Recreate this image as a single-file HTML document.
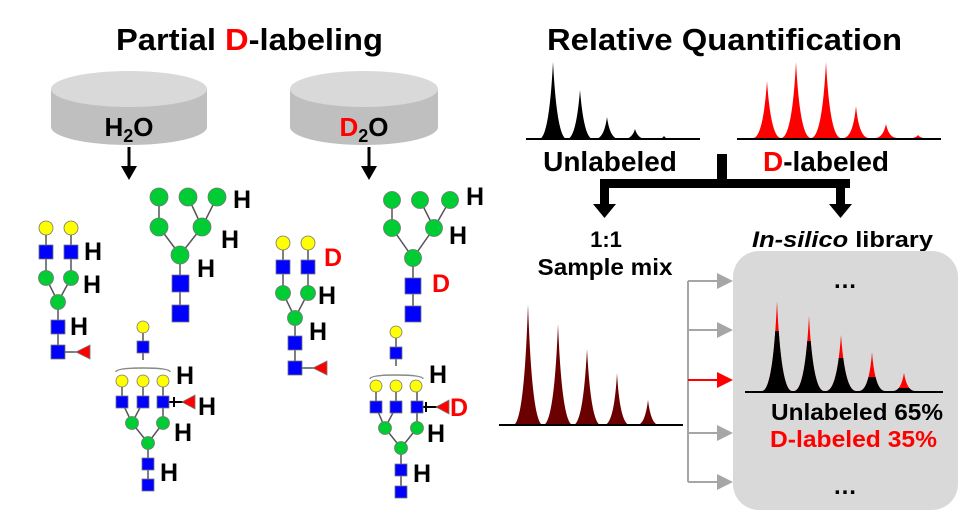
<!DOCTYPE html>
<html><head><meta charset="utf-8"><style>
html,body{margin:0;padding:0;background:#fff;}
svg{display:block;font-family:"Liberation Sans",Arial,sans-serif;font-weight:bold;}
</style></head><body>
<svg width="969" height="520" viewBox="0 0 969 520" xmlns="http://www.w3.org/2000/svg">
<!-- Titles -->
<text x="116" y="50" font-size="31" textLength="267" lengthAdjust="spacingAndGlyphs">Partial <tspan fill="#f00">D</tspan>-labeling</text>
<text x="547" y="50" font-size="31" textLength="355" lengthAdjust="spacingAndGlyphs">Relative Quantification</text>

<!-- Cylinders -->
<g>
<path d="M51 89 V127 A78 18 0 0 0 207 127 V89 Z" fill="#bfbfbf"/>
<ellipse cx="129" cy="89" rx="78" ry="18" fill="#d9d9d9"/>
<text x="129" y="136" font-size="26" text-anchor="middle">H<tspan font-size="18" dy="6">2</tspan><tspan dy="-6">O</tspan></text>
<path d="M290 89 V127 A74 18 0 0 0 438 127 V89 Z" fill="#bfbfbf"/>
<ellipse cx="364" cy="89" rx="74" ry="18" fill="#d9d9d9"/>
<text x="364" y="136" font-size="26" text-anchor="middle"><tspan fill="#f00">D</tspan><tspan font-size="18" dy="6">2</tspan><tspan dy="-6">O</tspan></text>
<line x1="129" y1="147" x2="129" y2="168" stroke="#000" stroke-width="3"/>
<polygon points="121,166 137,166 129,180" fill="#000"/>
<line x1="369" y1="147" x2="369" y2="168" stroke="#000" stroke-width="3"/>
<polygon points="361,166 377,166 369,180" fill="#000"/>
</g>

<g stroke="#555" stroke-width="1.5" fill="none">
<path d="M46 228 V278 L58 302 L71 278 V228 M58 302 V352 H83"/>
<path d="M159 197 V227 L180 255 L202 227 L217 197 M188 197 L202 227 M180 255 V313"/>
<path d="M143 327 V360 M122 381 V402 L132 423 L148 443 L163 423 L163 402 V381 M143 381 V402 L132 423 M148 443 V485"/>
<path d="M116 372 Q116 368 143 368 Q170 368 170 372" stroke="#888"/>
<path d="M163 402 H186" stroke="#000" stroke-width="2"/><path d="M174 397 V407" stroke="#000" stroke-width="2"/>
<path d="M283 243 V293 L295 318 L308 293 V243 M295 318 V368 H325"/>
<path d="M392 200 V228 L413 258 L434 228 L450 200 M420 200 L434 228 M413 258 V313"/>
<path d="M396 332 V366 M376 386 V407 L385 428 L401 448 L417 428 V386 M396 386 V407 L385 428 M401 448 V492"/>
<path d="M370 379 Q370 375 396 375 Q423 375 423 379" stroke="#888"/>
<path d="M417 407 H441" stroke="#000" stroke-width="2"/><path d="M426 402 V412" stroke="#000" stroke-width="2"/>
</g>

<g stroke="#777" stroke-width="0.8">
<circle cx="46" cy="228" r="7" fill="#ff0"/><circle cx="71" cy="228" r="7" fill="#ff0"/>
<rect x="39" y="245" width="14" height="14" fill="#00f"/><rect x="64" y="245" width="14" height="14" fill="#00f"/>
<circle cx="46" cy="278" r="7.5" fill="#0c3"/><circle cx="71" cy="278" r="7.5" fill="#0c3"/>
<circle cx="58" cy="302" r="7.5" fill="#0c3"/>
<rect x="51" y="320" width="14" height="14" fill="#00f"/><rect x="51" y="345" width="14" height="14" fill="#00f"/>
<polygon points="76,352 90,345 90,359" fill="#f00"/>
<circle cx="159" cy="197" r="9" fill="#0c3"/><circle cx="188" cy="197" r="9" fill="#0c3"/><circle cx="217" cy="197" r="9" fill="#0c3"/>
<circle cx="159" cy="227" r="9" fill="#0c3"/><circle cx="202" cy="227" r="9" fill="#0c3"/>
<circle cx="180" cy="255" r="9" fill="#0c3"/>
<rect x="172" y="275" width="17" height="17" fill="#00f"/><rect x="172" y="305" width="17" height="17" fill="#00f"/>
<circle cx="143" cy="327" r="6" fill="#ff0"/><rect x="137" y="341" width="12" height="12" fill="#00f"/>
<circle cx="122" cy="381" r="6" fill="#ff0"/><circle cx="143" cy="381" r="6" fill="#ff0"/><circle cx="163" cy="381" r="6" fill="#ff0"/>
<rect x="116" y="396" width="12" height="12" fill="#00f"/><rect x="137" y="396" width="12" height="12" fill="#00f"/><rect x="157" y="396" width="12" height="12" fill="#00f"/>
<polygon points="182,402 195,395 195,409" fill="#f00"/>
<circle cx="132" cy="423" r="6.5" fill="#0c3"/><circle cx="163" cy="423" r="6.5" fill="#0c3"/>
<circle cx="148" cy="443" r="6.5" fill="#0c3"/>
<rect x="142" y="458" width="12" height="12" fill="#00f"/><rect x="142" y="479" width="12" height="12" fill="#00f"/>
<circle cx="283" cy="243" r="7" fill="#ff0"/><circle cx="308" cy="243" r="7" fill="#ff0"/>
<rect x="276" y="260" width="14" height="14" fill="#00f"/><rect x="301" y="260" width="14" height="14" fill="#00f"/>
<circle cx="283" cy="293" r="7.5" fill="#0c3"/><circle cx="308" cy="293" r="7.5" fill="#0c3"/>
<circle cx="295" cy="318" r="7.5" fill="#0c3"/>
<rect x="288" y="336" width="14" height="14" fill="#00f"/><rect x="288" y="361" width="14" height="14" fill="#00f"/>
<polygon points="313,368 327,361 327,375" fill="#f00"/>
<circle cx="392" cy="200" r="8.5" fill="#0c3"/><circle cx="420" cy="200" r="8.5" fill="#0c3"/><circle cx="450" cy="200" r="8.5" fill="#0c3"/>
<circle cx="392" cy="228" r="8.5" fill="#0c3"/><circle cx="434" cy="228" r="8.5" fill="#0c3"/>
<circle cx="413" cy="258" r="8.5" fill="#0c3"/>
<rect x="405" y="278" width="16" height="16" fill="#00f"/><rect x="405" y="306" width="16" height="16" fill="#00f"/>
<circle cx="396" cy="332" r="6" fill="#ff0"/><rect x="390" y="347" width="12" height="12" fill="#00f"/>
<circle cx="376" cy="386" r="6" fill="#ff0"/><circle cx="396" cy="386" r="6" fill="#ff0"/><circle cx="416" cy="386" r="6" fill="#ff0"/>
<rect x="370" y="401" width="12" height="12" fill="#00f"/><rect x="390" y="401" width="12" height="12" fill="#00f"/><rect x="411" y="401" width="12" height="12" fill="#00f"/>
<polygon points="436,407 449,400 449,414" fill="#f00"/>
<circle cx="385" cy="428" r="6.5" fill="#0c3"/><circle cx="417" cy="428" r="6.5" fill="#0c3"/>
<circle cx="401" cy="448" r="6.5" fill="#0c3"/>
<rect x="395" y="464" width="12" height="12" fill="#00f"/><rect x="395" y="486" width="12" height="12" fill="#00f"/>
</g>

<g font-size="25">
<text x="84" y="260">H</text><text x="83" y="293">H</text><text x="70" y="335">H</text>
<text x="233" y="208">H</text><text x="221" y="248">H</text><text x="197" y="277">H</text>
<text x="176" y="384">H</text><text x="198" y="415">H</text><text x="174" y="441">H</text><text x="160" y="481">H</text>
<text x="324" y="266" fill="#f00">D</text><text x="318" y="304">H</text><text x="309" y="340">H</text>
<text x="466" y="205">H</text><text x="449" y="244">H</text><text x="432" y="292" fill="#f00">D</text>
<text x="429" y="383">H</text><text x="450" y="416" fill="#f00">D</text><text x="427" y="442">H</text><text x="413" y="482">H</text>
</g>

<!-- Top spectra -->
<line x1="526" y1="139" x2="700" y2="139" stroke="#000" stroke-width="2"/>
<g fill="#000">
<path d="M539 139 Q549 139 553 62 Q557 139 567 139Z"/>
<path d="M567 139 Q576 139 580 90 Q584 139 593 139Z"/>
<path d="M595 139 Q604 139 607 117 Q610 139 619 139Z"/>
<path d="M624 139 Q632 139 635 129 Q638 139 646 139Z"/>
<path d="M658 139 Q662 139 664 136 Q666 139 670 139Z"/>
</g>
<line x1="737" y1="139" x2="941" y2="139" stroke="#000" stroke-width="2"/>
<g fill="#f00">
<path d="M753 138 Q763 138 767 81 Q771 138 781 138Z"/>
<path d="M781 138 Q792 138 796 62 Q800 138 811 138Z"/>
<path d="M811 138 Q822 138 826 62 Q830 138 841 138Z"/>
<path d="M843 138 Q853 138 856 106 Q859 138 869 138Z"/>
<path d="M875 138 Q883 138 886 124 Q889 138 897 138Z"/>
<path d="M911 138 Q916 138 918 135 Q920 138 925 138Z"/>
</g>
<text x="610" y="171" font-size="28" text-anchor="middle">Unlabeled</text>
<text x="826" y="171" font-size="28" text-anchor="middle"><tspan fill="#f00">D</tspan>-labeled</text>

<rect x="717" y="154" width="10" height="30" fill="#000"/>
<rect x="600" y="179" width="250" height="9" fill="#000"/>
<rect x="600" y="179" width="9" height="27" fill="#000"/>
<rect x="836" y="179" width="9" height="27" fill="#000"/>
<polygon points="593,204 616,204 604.5,218" fill="#000"/>
<polygon points="829,204 852,204 840.5,218" fill="#000"/>

<text x="606" y="247" font-size="22" text-anchor="middle">1:1</text>
<text x="605" y="275" font-size="23" text-anchor="middle" textLength="135" lengthAdjust="spacingAndGlyphs">Sample mix</text>
<text x="752" y="247" font-size="22" textLength="181" lengthAdjust="spacingAndGlyphs"><tspan font-style="italic">In-silico</tspan> library</text>

<!-- Sample mix spectrum -->
<g fill="#6b0000">
<path d="M513 425 Q524 425 528 304 Q532 425 543 425Z"/>
<path d="M543 425 Q554 425 558 324 Q562 425 573 425Z"/>
<path d="M573 425 Q583 425 587 349 Q591 425 601 425Z"/>
<path d="M604 425 Q614 425 617 373 Q620 425 630 425Z"/>
<path d="M637 425 Q645 425 648 400 Q651 425 659 425Z"/>
</g>
<line x1="499" y1="425" x2="683" y2="425" stroke="#000" stroke-width="2"/>

<g stroke="#a6a6a6" stroke-width="2">
<line x1="688" y1="281" x2="688" y2="482"/>
<line x1="688" y1="281" x2="720" y2="281"/>
<line x1="688" y1="330" x2="720" y2="330"/>
<line x1="688" y1="433" x2="720" y2="433"/>
<line x1="688" y1="482" x2="720" y2="482"/>
</g>
<g fill="#a6a6a6">
<polygon points="717,273 733,281 717,289"/>
<polygon points="717,322 733,330 717,338"/>
<polygon points="717,425 733,433 717,441"/>
<polygon points="717,474 733,482 717,490"/>
</g>
<line x1="688" y1="380" x2="720" y2="380" stroke="#f00" stroke-width="2"/>
<polygon points="717,372 733,380 717,388" fill="#f00"/>

<rect x="733" y="251" width="225" height="259" rx="26" fill="#d9d9d9"/>
<text x="845" y="288" font-size="24" text-anchor="middle">…</text>
<text x="845" y="494" font-size="24" text-anchor="middle">…</text>
<clipPath id="c1"><rect x="760" y="331" width="40" height="70"/></clipPath>
<clipPath id="c2"><rect x="790" y="341" width="40" height="60"/></clipPath>
<clipPath id="c3"><rect x="820" y="358" width="40" height="40"/></clipPath>
<clipPath id="c4"><rect x="855" y="377" width="40" height="20"/></clipPath>
<clipPath id="c5"><rect x="885" y="388" width="40" height="10"/></clipPath>
<g>
<path d="M762 391 Q773 391 777 301 Q781 391 792 391Z" fill="#f00"/>
<path d="M762 391 Q773 391 777 301 Q781 391 792 391Z" fill="#000" clip-path="url(#c1)"/>
<path d="M794 391 Q805 391 809 316 Q813 391 824 391Z" fill="#f00"/>
<path d="M794 391 Q805 391 809 316 Q813 391 824 391Z" fill="#000" clip-path="url(#c2)"/>
<path d="M826 391 Q837 391 841 335 Q845 391 856 391Z" fill="#f00"/>
<path d="M826 391 Q837 391 841 335 Q845 391 856 391Z" fill="#000" clip-path="url(#c3)"/>
<path d="M859 391 Q869 391 872 352 Q875 391 885 391Z" fill="#f00"/>
<path d="M859 391 Q869 391 872 352 Q875 391 885 391Z" fill="#000" clip-path="url(#c4)"/>
<path d="M893 391 Q901 391 904 373 Q907 391 915 391Z" fill="#f00"/>
<path d="M893 391 Q901 391 904 373 Q907 391 915 391Z" fill="#000" clip-path="url(#c5)"/>
</g>
<line x1="745" y1="392" x2="943" y2="392" stroke="#000" stroke-width="2"/>
<text x="771" y="420" font-size="23" textLength="172" lengthAdjust="spacingAndGlyphs">Unlabeled 65%</text>
<text x="770" y="447" font-size="23" fill="#f00" textLength="167" lengthAdjust="spacingAndGlyphs">D-labeled 35%</text>
</svg>
</body></html>
